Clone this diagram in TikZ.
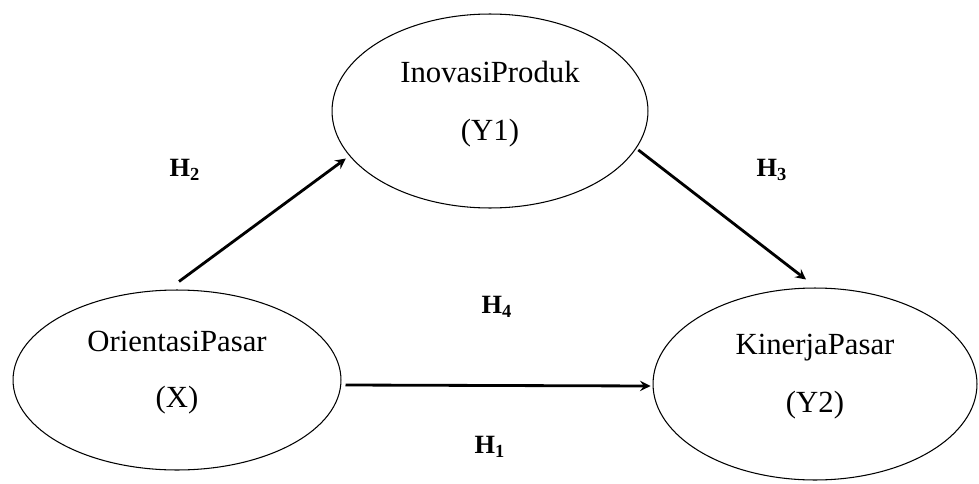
\documentclass[tikz,border=0pt]{standalone}
\usepackage{fontspec}
\setmainfont{Liberation Serif}
\usepackage{tikz}
\usetikzlibrary{positioning, shapes.geometric}
\tikzstyle{latent} = [ellipse, draw=black, line width=0.6pt, text centered, align=center, inner sep=0pt, text depth=12pt, font=\fontsize{17.5}{21}\selectfont]
\tikzstyle{hyp} = [font=\fontsize{15}{18}\selectfont\bfseries]
\tikzstyle{arrow} = [line width=1.6pt,->,>=stealth]
\newcommand{\hyplabel}[1]{H\textsubscript{#1}}

\begin{document}
\begin{tikzpicture}[x=0.02cm, y=-0.02cm]
        \useasboundingbox (0,0) rectangle (979,483);

        \node[latent, minimum width=6.32cm, minimum height=3.88cm] (inovasi) at (490,111) {InovasiProduk\\[12pt](Y1)};
        \node[latent, minimum width=6.56cm, minimum height=3.60cm] (orientasi) at (177,380) {OrientasiPasar\\[11pt](X)};
        \node[latent, minimum width=6.48cm, minimum height=3.84cm] (kinerja) at (815,384) {KinerjaPasar\\[12pt](Y2)};

        \node[hyp] (h2) at (185,170) {\hyplabel{2}};
        \node[hyp] (h3) at (772,170) {\hyplabel{3}};
        \node[hyp] (h4) at (497,307) {\hyplabel{4}};
        \node[hyp] (h1) at (490,447) {\hyplabel{1}};

        \draw[arrow] ([shift={(2,-8)}]orientasi.north) -- ([shift={(-4,2)}]inovasi.198);
        \draw[arrow] ([shift={(3,0)}]inovasi.-15) -- ([shift={(-9,-8)}]kinerja.north);
        \draw[arrow] ([shift={(4,5)}]orientasi.east) -- ([shift={(-2,2)}]kinerja.west);
    \end{tikzpicture}
\end{document}
